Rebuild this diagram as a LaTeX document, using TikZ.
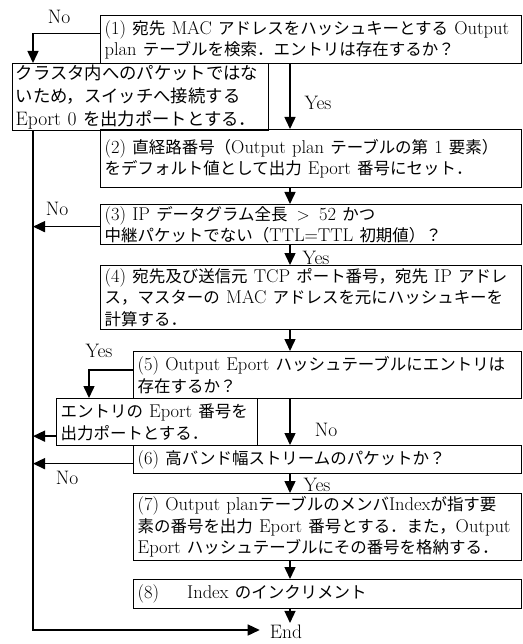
\documentclass[tikz,border=0pt]{standalone}
\usepackage{fontspec}
\newfontfamily\jpfont{Noto Sans CJK JP}[Scale=0.89]
\newcommand\J[1]{{\jpfont #1}}
\usetikzlibrary{arrows.meta}
\begin{document}
\begin{tikzpicture}[x=1pt,y=-1pt,
  box/.style={draw, line width=1.3pt, anchor=north west, inner xsep=4pt, inner ysep=0pt,
    align=left, font=\fontsize{18.5}{21.5}\selectfont},
  arr/.style={line width=1.5pt, -{Triangle[width=11pt,length=12pt]}},
  lbl/.style={font=\fontsize{19.5}{21}\selectfont, inner sep=0pt}]
\useasboundingbox (0,0) rectangle (522,644);
\coordinate (m) at (33,0);
\coordinate (c) at (290,0);
\coordinate (b) at (89,0);
% boxes
\node[box, minimum width=421pt, minimum height=48pt, text width=413pt] (n1) at (100,15)
  {(1) \J{宛先} MAC \J{アドレスをハッシュキーとする} Output\\plan \J{テーブルを検索．エントリは存在するか？}};
\node[box, minimum width=256pt, minimum height=67pt, text width=250pt, inner xsep=3pt,
  font=\fontsize{19.5}{23}\selectfont] (nA) at (12,63)
  {\J{クラスタ内へのパケットではな}\\\J{いため，スイッチへ接続する}\\Eport 0 \J{を出力ポートとする．}};
\node[box, minimum width=421pt, minimum height=58pt, text width=413pt] (n2) at (100,129)
  {(2) \J{直経路番号（}Output plan \J{テーブルの第} 1 \J{要素）}\\\J{をデフォルト値として出力} Eport \J{番号にセット．}};
\node[box, minimum width=421pt, minimum height=40pt, text width=413pt] (n3) at (100,204)
  {(3) IP \J{データグラム全長} \,$>$\, 52 \J{かつ}\\\J{中継パケットでない（}TTL=TTL \J{初期値）？}};
\node[box, minimum width=421pt, minimum height=64pt, text width=413pt] (n4) at (100,265)
  {(4) \J{宛先及び送信元} TCP \J{ポート番号，宛先} IP \J{アドレ}\\\J{ス，マスターの} MAC \J{アドレスを元にハッシュキーを}\\\J{計算する．}};
\node[box, minimum width=388pt, minimum height=47pt, text width=380pt] (n5) at (133,351)
  {(5) Output Eport \J{ハッシュテーブルにエントリは}\\\J{存在するか？}};
\node[box, minimum width=201pt, minimum height=47pt, text width=193pt] (nB) at (56,398)
  {\J{エントリの} Eport \J{番号を}\\\J{出力ポートとする．}};
\node[box, minimum width=388pt, minimum height=28pt, text width=380pt] (n6) at (133,445)
  {(6) \J{高バンド幅ストリームのパケットか？}};
\node[box, minimum width=388pt, minimum height=67pt, text width=380pt] (n7) at (133,493)
  {(7) Output plan\J{テーブルのメンバ}Index\J{が指す要}\\\J{素の番号を出力} Eport \J{番号とする．また，}Output\\Eport \J{ハッシュテーブルにその番号を格納する．}};
\node[box, minimum width=388pt, minimum height=29pt, text width=380pt] (n8) at (133,579)
  {(8)\hspace{28pt}Index \J{のインクリメント}};
\node[lbl, inner xsep=10pt, inner ysep=2pt] (end) at (286,632) {End};
% labels
\node[lbl] (l1) at (59,17) {No};
\node[lbl] (l2) at (318,103) {Yes};
\node[lbl] (l3) at (57,209) {No};
\node[lbl] (l4) at (316,258) {Yes};
\node[lbl] (l5) at (99,351) {Yes};
\node[lbl] (l6) at (326,430) {No};
\node[lbl] (l7) at (67,478) {No};
\node[lbl] (l8) at (317,485) {Yes};
% connectors
\draw[arr] ([yshift=6pt]n1.west) -| (nA.north -| m);
\draw[arr] (n1.south -| c) -- (n2.north -| c);
\draw[arr] (n2.south -| c) -- (n3.north -| c);
\draw[arr] (n3.south -| c) -- (n4.north -| c);
\draw[arr] (n4.south -| c) -- (n5.north -| c);
\draw[arr] (n5.south -| c) -- (n6.north -| c);
\draw[arr] (n6.south -| c) -- (n7.north -| c);
\draw[arr] (n7.south -| c) -- (n8.north -| c);
\draw[arr] (n8.south -| c) -- (end.north -| c);
\draw[arr] (nA.south -| m) |- ([yshift=2pt]end.west);
\draw[arr] ([yshift=-2pt]n3.west) -- ([yshift=-2pt]n3.west -| m);
\draw[arr] ([yshift=5pt]n5.west) -| (nB.north -| b);
\draw[arr] ([yshift=-14pt]nB.west) -- ([yshift=-14pt]nB.west -| m);
\draw[arr] ([yshift=-4pt]n6.west) -- ([yshift=-4pt]n6.west -| m);
\end{tikzpicture}
\end{document}
